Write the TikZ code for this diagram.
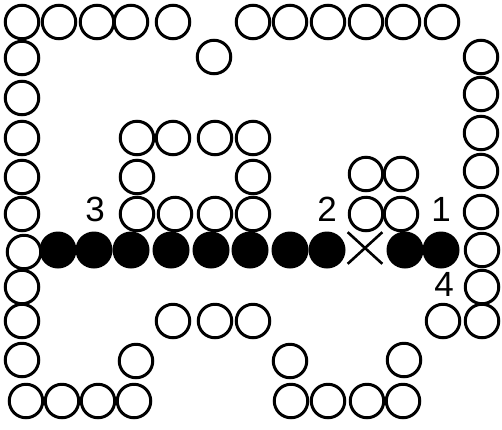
\documentclass[tikz,border=0pt]{standalone}
\usepackage{fontspec}
\setmainfont{Liberation Sans}
\usetikzlibrary{shapes.misc}
\begin{document}
\begin{tikzpicture}[x=1pt,y=-1pt,
  opencirc/.style={circle,draw=black,line width=3pt,minimum size=33.5pt,inner sep=0pt},
  fullcirc/.style={circle,fill=black,minimum size=37pt,inner sep=0pt},
  crossmark/.style={cross out,draw=black,line width=2.6pt,minimum width=32pt,minimum height=29pt,inner sep=0pt},
  lbl/.style={font=\fontsize{35}{35}\selectfont,inner sep=0pt}]
\useasboundingbox (0,0) rectangle (502,429);
% open circles
\foreach \x/\y [count=\i] in {
  22/22, 59/22, 97/22, 131/22, 173/22,
  253/22, 290/22, 328/22, 366/22, 403/22, 442/22,
  214/57,
  22/58, 22/98, 22/138, 22/177, 22/214, 24/252, 22/287, 22/321, 22/360,
  26/401, 62/401, 98/401, 134/401,
  481/57, 481/94, 481/133, 481/171, 481/212, 482/250, 482/287, 482/321,
  137/138, 173/138, 215/138, 253/138,
  137/177, 253/177, 366/174, 401/174,
  137/214, 175/214, 215/214, 253/214, 366/214, 401/214,
  173/321, 215/321, 253/321, 443/321,
  136/361, 290/361, 404/360,
  291/401, 328/401, 367/401, 403/401}
  \node[opencirc] (o\i) at (\x,\y) {};
% filled circles
\foreach \x [count=\i] in {58, 94, 131, 171, 211, 250, 290, 327, 405, 441}
  \node[fullcirc] (f\i) at (\x,250) {};
% cross
\node[crossmark] (cr) at (365,248) {};
% labels
\node[lbl] (l3) at (95,209) {3};
\node[lbl] (l2) at (327,209) {2};
\node[lbl] (l1) at (441,209) {1};
\node[lbl] (l4) at (444,284) {4};
\end{tikzpicture}
\end{document}
